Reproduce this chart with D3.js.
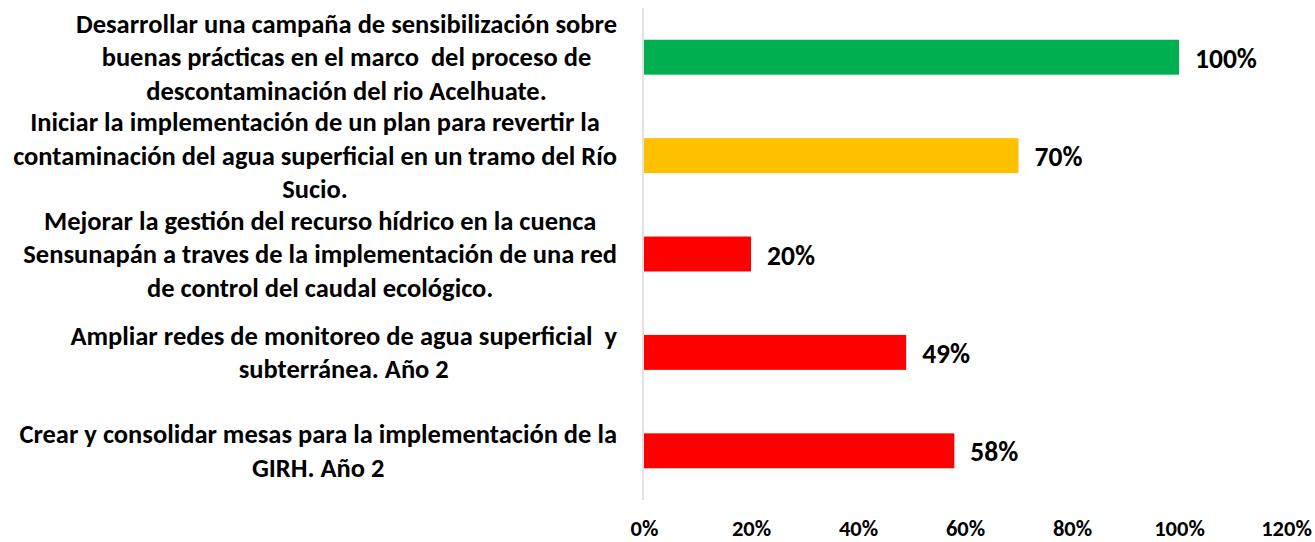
<!DOCTYPE html>
<html>
<head>
<meta charset="utf-8">
<script src="https://cdn.jsdelivr.net/npm/d3@7"></script>
<style>
  body { margin: 0; background: #fff; }
  text { font-family: Carlito, "Liberation Sans Narrow", "DejaVu Sans Condensed", "Open Sans", sans-serif; font-weight: bold; fill: #000; }
</style>
</head>
<body>
<svg></svg>
<script>
var width = 1315;
var height = 542;

// categories (wrapped as in the original), top to bottom
var categories = [
  ["Desarrollar una campaña de sensibilización sobre", "buenas prácticas en el marco  del proceso de", "descontaminación del rio Acelhuate."],
  ["Iniciar la implementación de un plan para revertir la", "contaminación del agua superficial en un tramo del Río", "Sucio."],
  ["Mejorar la gestión del recurso hídrico en la cuenca", "Sensunapán a traves de la implementación de una red", "de control del caudal ecológico."],
  ["Ampliar redes de monitoreo de agua superficial  y", "subterránea. Año 2"],
  ["Crear y consolidar mesas para la implementación de la", "GIRH. Año 2"]
];
var values = [1.00, 0.70, 0.20, 0.49, 0.58];
var colors = ["#00B050", "#FFC000", "#FF0000", "#FF0000", "#FF0000"];
var ticks = [0, 0.2, 0.4, 0.6, 0.8, 1.0, 1.2];

var svg = d3.select("svg")
    .attr("width", width)
    .attr("height", height);

var x = d3.scaleLinear().domain([0, 1.2]).range([644, 1286]);
var y = d3.scaleBand()
    .domain(d3.range(categories.length))
    .range([8, 500])
    .paddingInner(0.645)
    .paddingOuter(0.3225);

var pct = d3.format(".0%");

// eje vertical
svg.append("line")
    .attr("x1", 643).attr("x2", 643)
    .attr("y1", 8).attr("y2", 500)
    .attr("stroke", "#d9d9d9")
    .attr("stroke-width", 1.5);

// barras
svg.selectAll("rect.bar")
    .data(values)
    .enter().append("rect")
    .attr("class", "bar")
    .attr("x", x(0))
    .attr("y", function(d, i) { return y(i); })
    .attr("width", function(d) { return x(d) - x(0); })
    .attr("height", y.bandwidth())
    .attr("fill", function(d, i) { return colors[i]; });

// etiquetas de datos
svg.selectAll("text.val")
    .data(values)
    .enter().append("text")
    .attr("class", "val")
    .attr("x", function(d) { return x(d) + 16; })
    .attr("y", function(d, i) { return y(i) + y.bandwidth() / 2 + 1; })
    .attr("dy", "0.35em")
    .style("font-size", "27.5px")
    .text(function(d) { return pct(d); });

// eje x (solo etiquetas)
var xAxis = svg.append("g")
    .attr("transform", "translate(0,500)")
    .call(d3.axisBottom(x).tickValues(ticks).tickFormat(pct).tickSize(0).tickPadding(20));
xAxis.select(".domain").remove();
xAxis.selectAll("text")
    .style("font-size", "22.5px")
    .style("font-family", null)
    .attr("fill", "#000");

// etiquetas de categorias: bloque alineado a la derecha, lineas centradas
var lineH = 33.5;
var rightEdge = 617;
categories.forEach(function(lines, i) {
  var g = svg.append("g");
  var cy = y(i) + y.bandwidth() / 2;
  var texts = g.selectAll("text")
      .data(lines)
      .enter().append("text")
      .attr("text-anchor", "middle")
      .attr("dy", "0.35em")
      .style("font-size", "26.5px")
      .style("white-space", "pre")
      .attr("y", function(d, j) { return cy + (j - (lines.length - 1) / 2) * lineH; })
      .text(function(d) { return d; });
  var w = 0;
  texts.each(function() { w = Math.max(w, this.getComputedTextLength()); });
  texts.attr("x", rightEdge - w / 2);
});
</script>
</body>
</html>
